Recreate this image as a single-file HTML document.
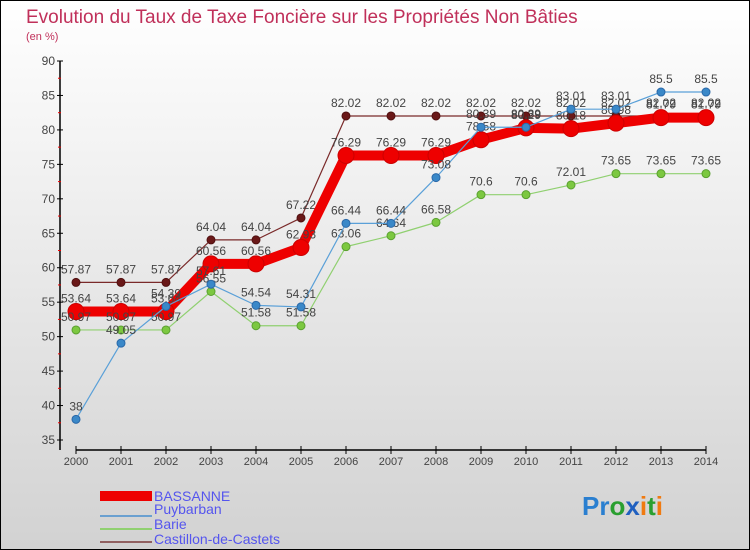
<!DOCTYPE html>
<html><head><meta charset="utf-8"><style>
body{margin:0;width:750px;height:550px;overflow:hidden}
svg{display:block;font-family:"Liberation Sans",sans-serif}
</style></head><body>
<svg id="c" width="750" height="550" viewBox="0 0 750 550">
<defs><linearGradient id="bg" x1="0" y1="0" x2="0" y2="1"><stop offset="0" stop-color="#ffffff"/><stop offset="1" stop-color="#d2d2d2"/></linearGradient></defs>
<rect x="0.5" y="0.5" width="749" height="549" fill="url(#bg)" stroke="#000"/>
<text x="26" y="23" font-size="19" fill="#c0305a">Evolution du Taux de Taxe Foncière sur les Propriétés Non Bâties</text>
<text x="26" y="40" font-size="11" fill="#c0305a">(en %)</text>
<g id="axes"></g>
<g id="series"></g>
<g id="legend">
<rect x="100" y="491" width="52" height="10" fill="#e00"/>
<text x="154" y="501" font-size="14" fill="#5555ee">BASSANNE</text>
<rect x="100" y="515" width="52" height="2" fill="#6aa0d0"/>
<text x="154" y="514" font-size="14" fill="#5555ee">Puybarban</text>
<rect x="100" y="528" width="52" height="2" fill="#90d070"/>
<text x="154" y="529" font-size="14" fill="#5555ee">Barie</text>
<rect x="100" y="541" width="52" height="2" fill="#906060"/>
<text x="154" y="544" font-size="14" fill="#5555ee">Castillon-de-Castets</text>
</g>
<g font-size="26" font-weight="bold" font-family="'Liberation Sans',sans-serif">
<text x="582" y="515"><tspan fill="#2a7fd0">Pr</tspan><tspan fill="#2a9f30">o</tspan><tspan fill="#2060c0">x</tspan><tspan fill="#f07a10">i</tspan><tspan fill="#2a9f30">t</tspan><tspan fill="#f07a10">i</tspan></text>
</g>
</svg>
<script>
const years=[2000,2001,2002,2003,2004,2005,2006,2007,2008,2009,2010,2011,2012,2013,2014];
const bassanne=[53.64,53.64,53.64,60.56,60.56,62.93,76.29,76.29,76.29,78.58,80.29,80.18,80.98,81.79,81.79];
const puybarban=[38,49.05,54.39,57.61,54.54,54.31,66.44,66.44,73.08,80.39,80.39,83.01,83.01,85.5,85.5];
const barie=[50.97,50.97,50.97,56.55,51.58,51.58,63.06,64.64,66.58,70.6,70.6,72.01,73.65,73.65,73.65];
const castillon=[57.87,57.87,57.87,64.04,64.04,67.22,82.02,82.02,82.02,82.02,82.02,82.02,82.02,82.02,82.02];
const yTicks=[35,40,45,50,55,60,65,70,75,80,85,90];
const NS="http://www.w3.org/2000/svg";
const X=i=>76+i*45;
const Y=v=>440-(v-35)*(379/55);
function mk(t,a,p){const e=document.createElementNS(NS,t);for(const k in a)e.setAttribute(k,a[k]);p.appendChild(e);return e;}
const ax=document.getElementById('axes');
let l=mk('line',{x1:60,y1:61,x2:60,y2:450,stroke:'#000','stroke-width':1.5},ax);


l=mk('line',{x1:76,y1:450,x2:706,y2:450,stroke:'#000','stroke-width':1.5},ax);


yTicks.forEach(v=>{
 mk('line',{x1:57,y1:Y(v),x2:63,y2:Y(v),stroke:'#000'},ax);
 if(v<90)mk('line',{x1:58,y1:Y(v+2.5),x2:61,y2:Y(v+2.5),stroke:'#e00'},ax);
 const t=mk('text',{x:55,y:Y(v)+4,'font-size':12,fill:'#444','text-anchor':'end'},ax);t.textContent=v;
 
 
});
years.forEach((y,i)=>{
 mk('line',{x1:X(i),y1:446,x2:X(i),y2:454,stroke:'#000'},ax);
 const t=mk('text',{x:X(i),y:465,'font-size':11,fill:'#444','text-anchor':'middle'},ax);t.textContent=y;
 
 
});
const sg=document.getElementById('series');
function draw(vals,name,color,w,r,dot,dstroke){
 const g=mk('g',{},sg);
 
 
 const p=mk('polyline',{points:vals.map((v,i)=>X(i)+','+Y(v)).join(' '),fill:'none',stroke:color,'stroke-width':w,'stroke-linejoin':'round'},g);
 
 
 vals.forEach((v,i)=>{
  const c=mk('circle',{cx:X(i),cy:Y(v),r:r,fill:dot,stroke:dstroke,'stroke-width':1},g);
  
  
  const t=mk('text',{x:X(i),y:Y(v)-9,'font-size':12,fill:'#444','text-anchor':'middle'},g);t.textContent=v;
  
  
 });
}
draw(castillon,'castillon','#7a2a2a',1.2,4,'#6a1818','#501010');
draw(bassanne,'bassanne','#ee0000',10,8,'#ee0000','#cc0000');
draw(barie,'barie','#90d070',1.2,4,'#7cc840','#5aa030');
draw(puybarban,'puybarban','#5aa0d8',1.2,4,'#3a88c8','#2a68a8');
</script>
</body></html>
